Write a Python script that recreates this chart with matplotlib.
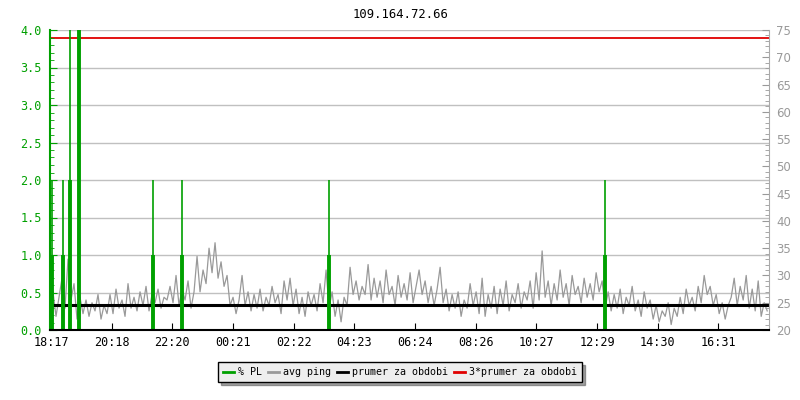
import numpy as np
import matplotlib
matplotlib.use("Agg")
import matplotlib.pyplot as plt
from matplotlib.ticker import MultipleLocator, FixedLocator

# avg ping [ms], one sample every 6 minutes
ping = [23.5, 27.0, 22.5, 26.0, 29.5, 24.0, 33.0, 25.5, 28.5, 22.0,
        26.0, 23.0, 25.5, 22.5, 25.0, 23.5, 26.5, 22.0, 24.5, 23.0,
        26.5, 23.0, 27.5, 24.0, 25.5, 22.5, 28.5, 24.0, 26.0, 23.5,
        27.0, 24.5, 28.0, 23.5, 26.5, 25.0, 27.5, 24.0, 26.0, 25.5,
        28.0, 25.0, 30.0, 24.5, 27.5, 25.5, 29.0, 24.0, 27.0, 33.5,
        27.0, 31.0, 28.5, 35.0, 30.5, 36.0, 29.5, 32.5, 28.0, 30.0,
        24.5, 26.0, 23.0, 25.5, 30.0, 24.5, 27.0, 23.5, 26.5, 24.0,
        27.5, 23.5, 26.0, 24.5, 28.0, 25.0, 26.5, 23.0, 29.0, 25.5,
        29.5, 24.5, 27.5, 23.0, 26.0, 22.5, 27.0, 24.5, 26.5, 23.5,
        28.5, 25.0, 31.0, 24.0, 27.0, 22.5, 25.5, 21.5, 26.0, 24.5,
        31.5, 26.5, 29.0, 25.5, 28.0, 26.5, 32.0, 25.5, 29.5, 26.0,
        29.0, 25.0, 31.0, 26.5, 28.0, 24.5, 30.0, 26.0, 28.5, 25.5,
        30.5, 25.0, 28.0, 31.0, 26.5, 29.0, 25.0, 28.0, 24.5, 27.5,
        31.5, 25.0, 27.5, 23.5, 26.5, 24.0, 27.0, 22.5, 25.5, 24.0,
        28.5, 24.5, 27.0, 23.0, 29.5, 22.5, 26.5, 24.0, 28.0, 23.0,
        27.5, 24.5, 29.0, 23.5, 26.5, 25.0, 28.5, 24.0, 27.0, 25.5,
        29.0, 24.0, 30.5, 25.5, 34.5, 26.0, 29.0, 24.5, 28.5, 25.5,
        31.0, 26.0, 28.5, 24.5, 30.0, 26.5, 28.0, 25.0, 29.5, 26.0,
        28.5, 25.5, 30.5, 27.0, 29.0, 24.0, 27.0, 23.5, 26.5, 24.0,
        27.5, 23.0, 26.0, 24.5, 28.0, 23.5, 25.5, 22.5, 27.0, 24.0,
        25.5, 22.0, 24.5, 21.5, 23.5, 22.5, 25.0, 21.0, 24.0, 22.5,
        26.0, 23.0, 27.5, 24.5, 26.0, 23.5, 28.0, 25.0, 30.0, 26.5,
        28.0, 24.5, 26.5, 23.0, 25.0, 22.0, 24.5, 26.0, 29.5, 24.5,
        28.0, 25.5, 30.0, 24.0, 27.5, 23.5, 29.0, 22.5, 25.0, 23.5]
step_min = 6

# packet loss events: minute from start, max %, avg %
pl_time = [4, 26, 39, 58, 206, 263, 557, 1109]
pl_max = [2.0, 2.0, 8.0, 8.0, 2.0, 2.0, 2.0, 2.0]
pl_avg = [1.0, 1.0, 2.0, 8.0, 1.0, 1.0, 1.0, 1.0]

prumer = 24.5
tick_labels = ["18:17", "20:18", "22:20", "00:21", "02:22", "04:23",
               "06:24", "08:26", "10:27", "12:29", "14:30", "16:31"]

green = "#00a000"
gray = "#999999"
mono = "DejaVu Sans Mono"

t = np.arange(len(ping)) * step_min

fig = plt.figure(figsize=(8, 4), dpi=100)
ax = fig.add_axes([0.0625, 0.175, 0.899, 0.75])
ax2 = ax.twinx()

ax2.plot(t, ping, color=gray, lw=0.9)
ax2.axhline(prumer, color="black", lw=2.2)
ax2.axhline(3 * prumer, color="#e00000", lw=1.3)
ax2.set_ylim(20, 75)

ax.vlines(pl_time, 0, pl_max, color=green, lw=1.2)
ax.vlines(pl_time, 0, pl_avg, color=green, lw=2.8)
ax.set_ylim(0, 4)
ax.set_xlim(0, 1438)
ax.set_zorder(ax2.get_zorder() + 1)
ax.patch.set_visible(False)
ax2.grid(False)

# grid on left scale
for v in np.arange(0.5, 4.01, 0.5):
    ax2.axhline(20 + v * 55 / 4, color="#c0c0c0", lw=1, zorder=0)

ax.yaxis.set_major_locator(MultipleLocator(0.5))
ax.yaxis.set_minor_locator(MultipleLocator(0.1))
ax.yaxis.set_major_formatter(plt.FormatStrFormatter("%.1f"))
ax.tick_params(axis="y", which="major", direction="in", length=5,
               color=green, labelcolor=green, labelsize=8.5, pad=6)
ax.tick_params(axis="y", which="minor", direction="in", length=3, color=green)
for lab in ax.get_yticklabels():
    lab.set_family(mono)

ax.xaxis.set_major_locator(FixedLocator(2 + np.arange(len(tick_labels)) * 121.3))
ax.set_xticklabels(tick_labels, family=mono, fontsize=8.5)
ax.tick_params(axis="x", direction="in", length=5, color="black", pad=4)

ax2.yaxis.set_major_locator(MultipleLocator(5))
ax2.yaxis.set_minor_locator(MultipleLocator(1))
ax2.tick_params(axis="y", which="major", direction="in", length=5,
                color=gray, labelcolor=gray, labelsize=8.5, pad=5)
ax2.tick_params(axis="y", which="minor", direction="in", length=3, color=gray)

for a in (ax, ax2):
    a.spines["top"].set_visible(False)
ax.spines["left"].set_color(green)
ax.spines["left"].set_linewidth(1.5)
ax.spines["bottom"].set_color("black")
ax.spines["bottom"].set_linewidth(1.5)
ax.spines["right"].set_visible(False)
ax2.spines["left"].set_visible(False)
ax2.spines["bottom"].set_visible(False)
ax2.spines["right"].set_color("#aaaaaa")

fig.text(0.5, 0.965, "109.164.72.66", ha="center", va="center",
         family=mono, fontsize=8.8)

h_pl = plt.Line2D([], [], color=green, lw=2)
h_ping = plt.Line2D([], [], color=gray, lw=2)
h_avg = plt.Line2D([], [], color="black", lw=2)
h_3 = plt.Line2D([], [], color="#e00000", lw=2)
leg = fig.legend([h_pl, h_ping, h_avg, h_3],
                 ["% PL", "avg ping", "prumer za obdobi", "3*prumer za obdobi"],
                 loc="center", bbox_to_anchor=(0.5, 0.07), ncol=4,
                 frameon=True, fancybox=False, shadow=True,
                 prop={"family": mono, "size": 7.2},
                 handlelength=1.1, handletextpad=0.4, columnspacing=0.6,
                 borderpad=0.5)
leg.get_frame().set_facecolor("#eeeeee")
leg.get_frame().set_edgecolor("black")
leg.get_frame().set_linewidth(1)

fig.savefig("out.png", dpi=100)
